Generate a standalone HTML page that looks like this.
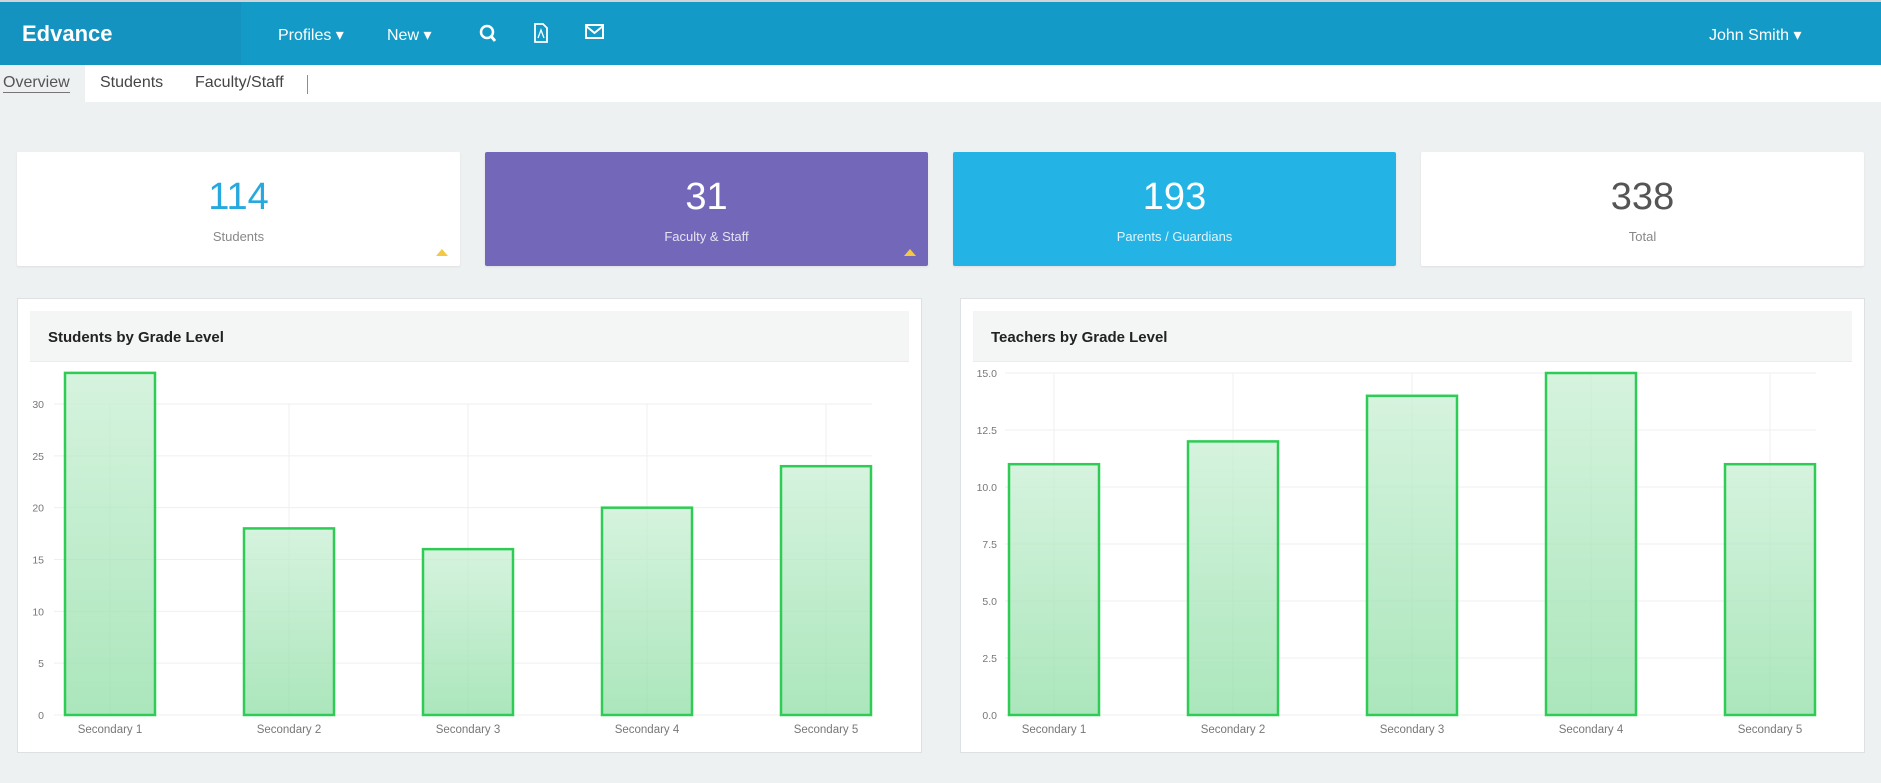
<!DOCTYPE html>
<html><head><meta charset="utf-8"><style>
*{box-sizing:border-box;margin:0;padding:0}
body{width:1881px;height:783px;background:#eef1f2;font-family:"Liberation Sans",sans-serif;position:relative;overflow:hidden}
.abs{position:absolute}
#nav{left:0;top:0;width:1881px;height:65px;background:#139ac6;border-top:2px solid #d0d4d6}
#brand{left:0;top:0;width:241px;height:63px;background:#1493c0}
.nt{color:#fff;font-size:16px;top:23px}
.card{background:#fff;height:114px;top:152px;border-radius:2px;box-shadow:0 1px 2px rgba(0,0,0,.08);text-align:center}
.num{font-size:38px;font-weight:300;margin-top:23px;line-height:44px}
.lbl{font-size:13px;margin-top:10px;color:#888}
.panel{background:#fff;border:1px solid #dde1e3;top:298px;height:455px;width:905px}
.ph{left:12px;top:12px;width:879px;height:51px;background:#f4f6f6;border-bottom:1px solid #e8ecec;font-weight:bold;font-size:15px;color:#222;padding:18px 0 0 18px}
.tri{width:0;height:0;border-left:6px solid transparent;border-right:6px solid transparent;border-bottom:7px solid #f4c842;top:97px}
</style></head><body>
<div id="nav" class="abs">
 <div id="brand" class="abs"><div class="abs" style="left:22px;top:19px;color:#fff;font-weight:bold;font-size:22px">Edvance</div></div>
 <div class="abs nt" style="left:278px">Profiles ▾</div>
 <div class="abs nt" style="left:387px">New ▾</div>
 <svg class="abs" style="left:479px;top:22px" width="18" height="20"><circle cx="8" cy="8" r="6" stroke="#fff" stroke-width="2.5" fill="none"/><line x1="12" y1="12" x2="16" y2="17" stroke="#fff" stroke-width="3"/></svg>
 <svg class="abs" style="left:533px;top:20px" width="16" height="22"><path d="M2 2h8l4 4v14H2z" stroke="#fff" stroke-width="1.8" fill="none"/><path d="M5 16l3-8 3 8" stroke="#fff" stroke-width="1.3" fill="none"/></svg>
 <svg class="abs" style="left:585px;top:22px" width="20" height="16"><rect x="1" y="1" width="17" height="13" stroke="#fff" stroke-width="2" fill="none"/><path d="M1 2l8.5 7 8.5-7" stroke="#fff" stroke-width="2" fill="none"/></svg>
 <div class="abs nt" style="left:1709px">John Smith ▾</div>
</div>
<div class="abs" style="left:0;top:65px;width:1881px;height:37px;background:#fff">
 <div class="abs" style="left:0;top:0;width:85px;height:37px;background:#eef1f2"></div>
 <div class="abs" style="left:3px;top:9px;font-size:16px;color:#555;border-bottom:1px solid #777">Overview</div>
 <div class="abs" style="left:100px;top:9px;font-size:16px;color:#444">Students</div>
 <div class="abs" style="left:195px;top:9px;font-size:16px;color:#444">Faculty/Staff</div>
 <div class="abs" style="left:307px;top:10px;width:1px;height:19px;background:#3c3"></div>
</div>
<div class="abs card" style="left:17px;width:443px"><div class="num" style="color:#25a9de">114</div><div class="lbl">Students</div><div class="abs tri" style="left:419px"></div></div>
<div class="abs card" style="left:485px;width:443px;background:#7367ba"><div class="num" style="color:#fff">31</div><div class="lbl" style="color:#e6e3f4">Faculty &amp; Staff</div><div class="abs tri" style="left:419px"></div></div>
<div class="abs card" style="left:953px;width:443px;background:#23b4e5"><div class="num" style="color:#fff">193</div><div class="lbl" style="color:#e0f4fb">Parents / Guardians</div></div>
<div class="abs card" style="left:1421px;width:443px"><div class="num" style="color:#555">338</div><div class="lbl">Total</div></div>
<div class="abs panel" style="left:17px"><div class="abs ph">Students by Grade Level</div></div>
<div class="abs panel" style="left:960px"><div class="abs ph">Teachers by Grade Level</div></div>
<svg id="charts" class="abs" style="left:0;top:0" width="1881" height="783">
<defs><linearGradient id="g" x1="0" y1="0" x2="0" y2="1"><stop offset="0" stop-color="#c8efd3"/><stop offset="1" stop-color="#8fdea5"/></linearGradient></defs>
</svg>
<script>
const categories=["Secondary 1","Secondary 2","Secondary 3","Secondary 4","Secondary 5"];
const studentValues=[33,18,16,20,24];
const teacherValues=[11,12,14,15,11];
const studentTicks=[0,5,10,15,20,25,30];
const teacherTicks=["0.0","2.5","5.0","7.5","10.0","12.5","15.0"];
const svg=document.getElementById('charts');
const NS="http://www.w3.org/2000/svg";
function mk(t,a){const e=document.createElementNS(NS,t);for(const k in a)e.setAttribute(k,a[k]);svg.appendChild(e);return e;}
function draw(o,vals,ticks,maxV,prefix){
 const y=v=>o.y0-(v/maxV)*(o.y0-o.yTop);
 const x=i=>o.c0+i*o.step;
 ticks.forEach(t=>{const v=parseFloat(t);
  const l=mk('line',{x1:o.gl,x2:o.gr,y1:y(v),y2:y(v),stroke:'#efefef'});
  
  
  const tx=mk('text',{x:o.lx,y:y(v)+4,'text-anchor':'end','font-size':10.5,fill:'#777','font-family':'Liberation Sans'});tx.textContent=t;
  
  });
 categories.forEach((c,i)=>{
  const vl=mk('line',{x1:x(i),x2:x(i),y1:o.yTop,y2:o.y0,stroke:'#efefef'});
  
  
  const tx=mk('text',{x:x(i),y:o.y0+18,'text-anchor':'middle','font-size':11.5,fill:'#777','font-family':'Liberation Sans'});tx.textContent=c;
  
  });
 vals.forEach((v,i)=>{
  const r=mk('rect',{x:x(i)-45,y:y(v),width:90,height:o.y0-y(v),fill:'url(#g)','fill-opacity':0.75,stroke:'#2ecc55','stroke-width':2.5});
  
  });
}
draw({y0:715,yTop:404,c0:110,step:179,gl:54,gr:872,lx:44},studentValues,studentTicks.map(String),30,'students');
draw({y0:715,yTop:373,c0:1054,step:179,gl:1005,gr:1816,lx:997},teacherValues,teacherTicks,15,'teachers');
</script>
</body></html>
